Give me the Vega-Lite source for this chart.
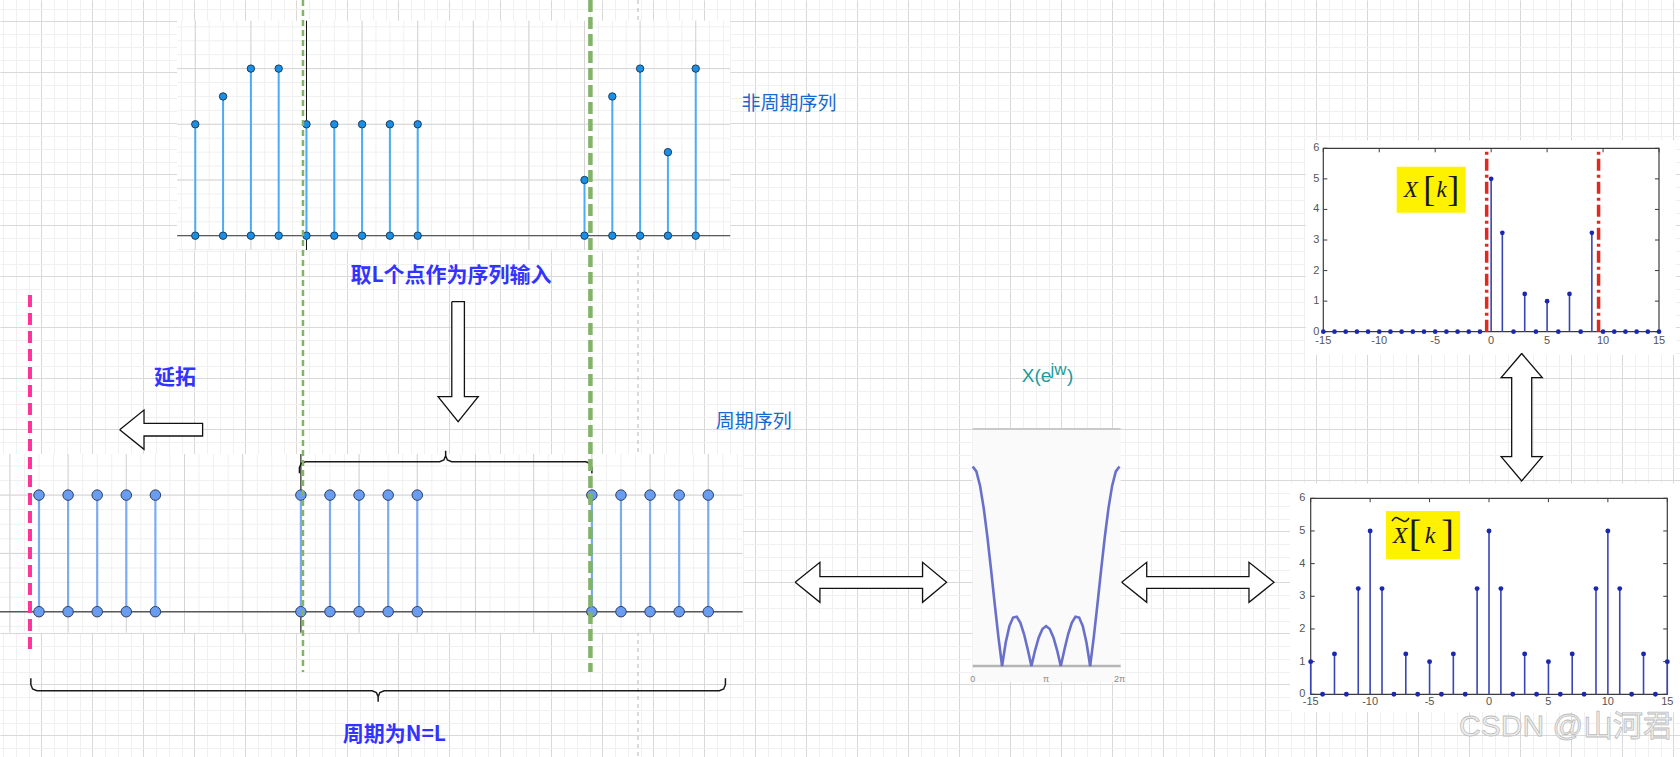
{
"$schema":"https://vega.github.io/schema/vega-lite/v6.json",
"width":1680,"height":757,"autosize":{"type":"none"},"padding":0,"background":"#ffffff",
"config":{"view":{"stroke":null}},
"datasets":{
"aStem":[{"n":-4,"v":2},{"n":-3,"v":2.5},{"n":-2,"v":3},{"n":-1,"v":3},{"n":0,"v":2},{"n":1,"v":2},{"n":2,"v":2},{"n":3,"v":2},{"n":4,"v":2},{"n":10,"v":1},{"n":11,"v":2.5},{"n":12,"v":3},{"n":13,"v":1.5},{"n":14,"v":3}],
"aMinX":[{"n":-4.5},{"n":-4},{"n":-3.5},{"n":-3},{"n":-2.5},{"n":-2},{"n":-1.5},{"n":-1},{"n":-0.5},{"n":0},{"n":0.5},{"n":1},{"n":1.5},{"n":2},{"n":2.5},{"n":3},{"n":3.5},{"n":4},{"n":4.5},{"n":5},{"n":5.5},{"n":6},{"n":6.5},{"n":7},{"n":7.5},{"n":8},{"n":8.5},{"n":9},{"n":9.5},{"n":10},{"n":10.5},{"n":11},{"n":11.5},{"n":12},{"n":12.5},{"n":13},{"n":13.5},{"n":14},{"n":14.5},{"n":15}],
"aMinY":[{"v":-0.25},{"v":0},{"v":0.25},{"v":0.5},{"v":0.75},{"v":1},{"v":1.25},{"v":1.5},{"v":1.75},{"v":2},{"v":2.25},{"v":2.5},{"v":2.75},{"v":3},{"v":3.25},{"v":3.5},{"v":3.75}],
"aMajX":[{"n":-4},{"n":-2},{"n":0},{"n":2},{"n":4},{"n":6},{"n":8},{"n":10},{"n":12},{"n":14}],
"aMajY":[{"v":0},{"v":1},{"v":2},{"v":3}],
"bStem":[{"n":-9,"v":2},{"n":-8,"v":2},{"n":-7,"v":2},{"n":-6,"v":2},{"n":-5,"v":2},{"n":0,"v":2},{"n":1,"v":2},{"n":2,"v":2},{"n":3,"v":2},{"n":4,"v":2},{"n":10,"v":2},{"n":11,"v":2},{"n":12,"v":2},{"n":13,"v":2},{"n":14,"v":2}],
"bMinX":[{"n":-10},{"n":-9.5},{"n":-9},{"n":-8.5},{"n":-8},{"n":-7.5},{"n":-7},{"n":-6.5},{"n":-6},{"n":-5.5},{"n":-5},{"n":-4.5},{"n":-4},{"n":-3.5},{"n":-3},{"n":-2.5},{"n":-2},{"n":-1.5},{"n":-1},{"n":-0.5},{"n":0},{"n":0.5},{"n":1},{"n":1.5},{"n":2},{"n":2.5},{"n":3},{"n":3.5},{"n":4},{"n":4.5},{"n":5},{"n":5.5},{"n":6},{"n":6.5},{"n":7},{"n":7.5},{"n":8},{"n":8.5},{"n":9},{"n":9.5},{"n":10},{"n":10.5},{"n":11},{"n":11.5},{"n":12},{"n":12.5},{"n":13},{"n":13.5},{"n":14},{"n":14.5},{"n":15}],
"bMinY":[{"v":-0.25},{"v":0},{"v":0.25},{"v":0.5},{"v":0.75},{"v":1},{"v":1.25},{"v":1.5},{"v":1.75},{"v":2},{"v":2.25},{"v":2.5}],
"bMajX":[{"n":-10},{"n":-8},{"n":-6},{"n":-4},{"n":-2},{"n":0},{"n":2},{"n":4},{"n":6},{"n":8},{"n":10},{"n":12},{"n":14}],
"bMajY":[{"v":0},{"v":1},{"v":2}],
"braces":[
{"b":"t","i":0,"n":-0.05,"v":2.374},{"b":"t","i":1,"n":-0.05,"v":2.47},{"b":"t","i":2,"n":0.01,"v":2.543},{"b":"t","i":3,"n":0.156,"v":2.573},{"b":"t","i":4,"n":4.769,"v":2.573},{"b":"t","i":5,"n":4.915,"v":2.603},{"b":"t","i":6,"n":4.975,"v":2.676},{"b":"t","i":7,"n":4.975,"v":2.762},{"b":"t","i":8,"n":4.975,"v":2.676},{"b":"t","i":9,"n":5.035,"v":2.603},{"b":"t","i":10,"n":5.181,"v":2.573},{"b":"t","i":11,"n":9.794,"v":2.573},{"b":"t","i":12,"n":9.94,"v":2.543},{"b":"t","i":13,"n":10,"v":2.47},{"b":"t","i":14,"n":10,"v":2.374},
{"b":"b","i":0,"n":-9.28,"v":-1.142},{"b":"b","i":1,"n":-9.28,"v":-1.252},{"b":"b","i":2,"n":-9.22,"v":-1.325},{"b":"b","i":3,"n":-9.074,"v":-1.355},{"b":"b","i":4,"n":2.449,"v":-1.355},{"b":"b","i":5,"n":2.595,"v":-1.385},{"b":"b","i":6,"n":2.655,"v":-1.458},{"b":"b","i":7,"n":2.655,"v":-1.544},{"b":"b","i":8,"n":2.655,"v":-1.458},{"b":"b","i":9,"n":2.715,"v":-1.385},{"b":"b","i":10,"n":2.861,"v":-1.355},{"b":"b","i":11,"n":14.384,"v":-1.355},{"b":"b","i":12,"n":14.53,"v":-1.325},{"b":"b","i":13,"n":14.59,"v":-1.252},{"b":"b","i":14,"n":14.59,"v":-1.142}],
"dtft":[{"w":0,"m":5},{"w":0.05,"m":4.877},{"w":0.1,"m":4.52},{"w":0.15,"m":3.958},{"w":0.2,"m":3.236},{"w":0.25,"m":2.414},{"w":0.3,"m":1.558},{"w":0.35,"m":0.732},{"w":0.4,"m":0},{"w":0.45,"m":0.589},{"w":0.5,"m":1},{"w":0.55,"m":1.215},{"w":0.6,"m":1.236},{"w":0.65,"m":1.084},{"w":0.7,"m":0.794},{"w":0.75,"m":0.414},{"w":0.8,"m":0},{"w":0.85,"m":0.394},{"w":0.9,"m":0.716},{"w":0.95,"m":0.927},{"w":1,"m":1},{"w":1.05,"m":0.927},{"w":1.1,"m":0.716},{"w":1.15,"m":0.394},{"w":1.2,"m":0},{"w":1.25,"m":0.414},{"w":1.3,"m":0.794},{"w":1.35,"m":1.084},{"w":1.4,"m":1.236},{"w":1.45,"m":1.215},{"w":1.5,"m":1},{"w":1.55,"m":0.589},{"w":1.6,"m":0},{"w":1.65,"m":0.732},{"w":1.7,"m":1.558},{"w":1.75,"m":2.414},{"w":1.8,"m":3.236},{"w":1.85,"m":3.958},{"w":1.9,"m":4.52},{"w":1.95,"m":4.877},{"w":2,"m":5}],
"cLab":[{"w":0,"t":"0"},{"w":1,"t":"π"},{"w":2,"t":"2π"}],
"dStem":[{"k":-15,"v":0},{"k":-14,"v":0},{"k":-13,"v":0},{"k":-12,"v":0},{"k":-11,"v":0},{"k":-10,"v":0},{"k":-9,"v":0},{"k":-8,"v":0},{"k":-7,"v":0},{"k":-6,"v":0},{"k":-5,"v":0},{"k":-4,"v":0},{"k":-3,"v":0},{"k":-2,"v":0},{"k":-1,"v":0},{"k":0,"v":5},{"k":1,"v":3.236},{"k":2,"v":0},{"k":3,"v":1.236},{"k":4,"v":0},{"k":5,"v":1},{"k":6,"v":0},{"k":7,"v":1.236},{"k":8,"v":0},{"k":9,"v":3.236},{"k":10,"v":0},{"k":11,"v":0},{"k":12,"v":0},{"k":13,"v":0},{"k":14,"v":0},{"k":15,"v":0}],
"eStem":[{"k":-15,"v":1},{"k":-14,"v":0},{"k":-13,"v":1.236},{"k":-12,"v":0},{"k":-11,"v":3.236},{"k":-10,"v":5},{"k":-9,"v":3.236},{"k":-8,"v":0},{"k":-7,"v":1.236},{"k":-6,"v":0},{"k":-5,"v":1},{"k":-4,"v":0},{"k":-3,"v":1.236},{"k":-2,"v":0},{"k":-1,"v":3.236},{"k":0,"v":5},{"k":1,"v":3.236},{"k":2,"v":0},{"k":3,"v":1.236},{"k":4,"v":0},{"k":5,"v":1},{"k":6,"v":0},{"k":7,"v":1.236},{"k":8,"v":0},{"k":9,"v":3.236},{"k":10,"v":5},{"k":11,"v":3.236},{"k":12,"v":0},{"k":13,"v":1.236},{"k":14,"v":0},{"k":15,"v":1}],
"kLab":[{"k":-15,"t":"-15"},{"k":-10,"t":"-10"},{"k":-5,"t":"-5"},{"k":0,"t":"0"},{"k":5,"t":"5"},{"k":10,"t":"10"},{"k":15,"t":"15"}],
"vLab":[{"v":0,"t":"0"},{"v":1,"t":"1"},{"v":2,"t":"2"},{"v":3,"t":"3"},{"v":4,"t":"4"},{"v":5,"t":"5"},{"v":6,"t":"6"}],
"dRed":[{"k":-0.4},{"k":9.6}],
"dItal":[{"k":-7.185,"v":4.418,"t":"X"},{"k":-4.42,"v":4.418,"t":"k"}],
"dBrk":[{"k":-5.536,"v":4.28,"t":"["},{"k":-3.382,"v":4.28,"t":"]"}],
"eItal":[{"k":-7.487,"v":4.622,"t":"X"},{"k":-4.963,"v":4.622,"t":"k"}],
"eBrk":[{"k":-6.225,"v":4.539,"t":"["},{"k":-3.491,"v":4.539,"t":"]"}],
"eTil":[{"k":-8.16,"v":5.305},{"k":-7.824,"v":5.412},{"k":-7.445,"v":5.35},{"k":-7.067,"v":5.289},{"k":-6.73,"v":5.396}],
"arrows":[
{"a":"down","i":0,"gx":8.049,"gy":5.498},{"a":"down","i":1,"gx":8.296,"gy":5.498},{"a":"down","i":2,"gx":8.296,"gy":7.361},{"a":"down","i":3,"gx":8.567,"gy":7.361},{"a":"down","i":4,"gx":8.173,"gy":7.851},{"a":"down","i":5,"gx":7.779,"gy":7.361},{"a":"down","i":6,"gx":8.049,"gy":7.361},{"a":"down","i":7,"gx":8.049,"gy":5.498},
{"a":"left","i":0,"gx":1.537,"gy":8.007},{"a":"left","i":1,"gx":2.014,"gy":7.622},{"a":"left","i":2,"gx":2.014,"gy":7.882},{"a":"left","i":3,"gx":3.163,"gy":7.882},{"a":"left","i":4,"gx":3.163,"gy":8.131},{"a":"left","i":5,"gx":2.014,"gy":8.131},{"a":"left","i":6,"gx":2.014,"gy":8.392},{"a":"left","i":7,"gx":1.537,"gy":8.007},
{"a":"h1","i":0,"gx":14.782,"gy":11.0},{"a":"h1","i":1,"gx":15.267,"gy":10.608},{"a":"h1","i":2,"gx":15.267,"gy":10.89},{"a":"h1","i":3,"gx":17.28,"gy":10.89},{"a":"h1","i":4,"gx":17.28,"gy":10.608},{"a":"h1","i":5,"gx":17.751,"gy":11.0},{"a":"h1","i":6,"gx":17.28,"gy":11.392},{"a":"h1","i":7,"gx":17.28,"gy":11.118},{"a":"h1","i":8,"gx":15.267,"gy":11.118},{"a":"h1","i":9,"gx":15.267,"gy":11.392},{"a":"h1","i":10,"gx":14.782,"gy":11.0},
{"a":"h2","i":0,"gx":21.184,"gy":11.0},{"a":"h2","i":1,"gx":21.675,"gy":10.608},{"a":"h2","i":2,"gx":21.675,"gy":10.89},{"a":"h2","i":3,"gx":23.68,"gy":10.89},{"a":"h2","i":4,"gx":23.68,"gy":10.608},{"a":"h2","i":5,"gx":24.171,"gy":11.0},{"a":"h2","i":6,"gx":23.68,"gy":11.392},{"a":"h2","i":7,"gx":23.68,"gy":11.118},{"a":"h2","i":8,"gx":21.675,"gy":11.118},{"a":"h2","i":9,"gx":21.675,"gy":11.392},{"a":"h2","i":10,"gx":21.184,"gy":11.0},
{"a":"v1","i":0,"gx":29.027,"gy":6.514},{"a":"v1","i":1,"gx":29.431,"gy":6.988},{"a":"v1","i":2,"gx":29.224,"gy":6.988},{"a":"v1","i":3,"gx":29.224,"gy":8.537},{"a":"v1","i":4,"gx":29.431,"gy":8.537},{"a":"v1","i":5,"gx":29.027,"gy":9.012},{"a":"v1","i":6,"gx":28.625,"gy":8.537},{"a":"v1","i":7,"gx":28.831,"gy":8.537},{"a":"v1","i":8,"gx":28.831,"gy":6.988},{"a":"v1","i":9,"gx":28.625,"gy":6.988},{"a":"v1","i":10,"gx":29.027,"gy":6.514}]
},
"resolve":{"scale":{"x":"independent","y":"independent"}},
"layer":[
{"data":{"values":[{"a":0,"b":0}]},"mark":{"type":"point","opacity":0},
 "encoding":{"x":{"field":"a","type":"quantitative","scale":{"domain":[-3.2392,128.5255],"range":[0,1680],"nice":false,"zero":false},"axis":{"grid":true,"gridColor":"#f0f0f0","gridWidth":1,"domain":false,"ticks":false,"labels":false,"title":null,"tickCount":132}},
 "y":{"field":"b","type":"quantitative","scale":{"domain":[-1.6706,57.702],"range":[0,757],"nice":false,"zero":false},"axis":{"grid":true,"gridColor":"#f0f0f0","gridWidth":1,"domain":false,"ticks":false,"labels":false,"title":null,"tickCount":60}}}},
{"data":{"values":[{"a":0,"b":0}]},"mark":{"type":"point","opacity":0},
 "encoding":{"x":{"field":"a","type":"quantitative","scale":{"domain":[-0.8098,32.1314],"range":[0,1680],"nice":false,"zero":false},"axis":{"grid":true,"gridColor":"#d9d9d9","gridWidth":1,"domain":false,"ticks":false,"labels":false,"title":null,"tickCount":33}},
 "y":{"field":"b","type":"quantitative","scale":{"domain":[-0.4176,14.4255],"range":[0,757],"nice":false,"zero":false},"axis":{"grid":true,"gridColor":"#d9d9d9","gridWidth":1,"domain":false,"ticks":false,"labels":false,"title":null,"tickCount":15}}}},
{"data":{"values":[{"gx":11.7,"gy":-0.418,"gy2":14.426}]},"mark":{"type":"rule","stroke":"#c4c4c4","strokeWidth":1.2,"strokeDash":[4,4]},
 "encoding":{"x":{"field":"gx","type":"quantitative","scale":{"domain":[-0.8098,32.1314],"range":[0,1680],"nice":false,"zero":false},"axis":null},"y":{"field":"gy","type":"quantitative","scale":{"domain":[-0.4176,14.4255],"range":[0,757],"nice":false,"zero":false},"axis":null},"y2":{"field":"gy2"}}},
{"layer":[
 {"data":{"values":[{}]},"mark":{"type":"rect","fill":"#ffffff"},"encoding":{"x":{"datum":-4.65,"type":"quantitative","scale":{"domain":[-4.65,15.24],"range":[177.2,730.2],"nice":false,"zero":false},"axis":null},"x2":{"datum":15.24},"y":{"datum":-0.257,"type":"quantitative","scale":{"domain":[-0.257,3.86],"range":[250,20.7],"nice":false,"zero":false},"axis":null},"y2":{"datum":3.86}}},
 {"data":{"name":"aMinX"},"mark":{"type":"rule","stroke":"#f0f0f0","strokeWidth":1},"encoding":{"x":{"field":"n","type":"quantitative","scale":{"domain":[-4.65,15.24],"range":[177.2,730.2],"nice":false,"zero":false},"axis":null},"y":{"datum":-0.257,"type":"quantitative","scale":{"domain":[-0.257,3.86],"range":[250,20.7],"nice":false,"zero":false},"axis":null},"y2":{"datum":3.86}}},
 {"data":{"name":"aMinY"},"mark":{"type":"rule","stroke":"#f0f0f0","strokeWidth":1},"encoding":{"y":{"field":"v","type":"quantitative","scale":{"domain":[-0.257,3.86],"range":[250,20.7],"nice":false,"zero":false},"axis":null},"x":{"datum":-4.65,"type":"quantitative","scale":{"domain":[-4.65,15.24],"range":[177.2,730.2],"nice":false,"zero":false},"axis":null},"x2":{"datum":15.24}}},
 {"data":{"name":"aMajX"},"mark":{"type":"rule","stroke":"#d4d4d4","strokeWidth":1},"encoding":{"x":{"field":"n","type":"quantitative","scale":{"domain":[-4.65,15.24],"range":[177.2,730.2],"nice":false,"zero":false},"axis":null},"y":{"datum":-0.257,"type":"quantitative","scale":{"domain":[-0.257,3.86],"range":[250,20.7],"nice":false,"zero":false},"axis":null},"y2":{"datum":3.86}}},
 {"data":{"name":"aMajY"},"mark":{"type":"rule","stroke":"#d4d4d4","strokeWidth":1},"encoding":{"y":{"field":"v","type":"quantitative","scale":{"domain":[-0.257,3.86],"range":[250,20.7],"nice":false,"zero":false},"axis":null},"x":{"datum":-4.65,"type":"quantitative","scale":{"domain":[-4.65,15.24],"range":[177.2,730.2],"nice":false,"zero":false},"axis":null},"x2":{"datum":15.24}}},
 {"data":{"values":[{}]},"mark":{"type":"rule","stroke":"#5a5a5a","strokeWidth":1.2},"encoding":{"y":{"datum":0,"type":"quantitative","scale":{"domain":[-0.257,3.86],"range":[250,20.7],"nice":false,"zero":false},"axis":null},"x":{"datum":-4.65,"type":"quantitative","scale":{"domain":[-4.65,15.24],"range":[177.2,730.2],"nice":false,"zero":false},"axis":null},"x2":{"datum":15.24}}},
 {"data":{"values":[{}]},"mark":{"type":"rule","stroke":"#111111","strokeWidth":1},"encoding":{"x":{"datum":0,"type":"quantitative","scale":{"domain":[-4.65,15.24],"range":[177.2,730.2],"nice":false,"zero":false},"axis":null},"y":{"datum":-0.257,"type":"quantitative","scale":{"domain":[-0.257,3.86],"range":[250,20.7],"nice":false,"zero":false},"axis":null},"y2":{"datum":3.86}}},
 {"data":{"name":"aStem"},"mark":{"type":"rule","stroke":"#4aacf2","strokeWidth":2},"encoding":{"x":{"field":"n","type":"quantitative","scale":{"domain":[-4.65,15.24],"range":[177.2,730.2],"nice":false,"zero":false},"axis":null},"y":{"field":"v","type":"quantitative","scale":{"domain":[-0.257,3.86],"range":[250,20.7],"nice":false,"zero":false},"axis":null},"y2":{"datum":0}}},
 {"data":{"name":"aStem"},"mark":{"type":"circle","fill":"#1a8fe6","stroke":"#1e3d5c","strokeWidth":1,"size":55,"opacity":1},"encoding":{"x":{"field":"n","type":"quantitative","scale":{"domain":[-4.65,15.24],"range":[177.2,730.2],"nice":false,"zero":false},"axis":null},"y":{"datum":0,"type":"quantitative","scale":{"domain":[-0.257,3.86],"range":[250,20.7],"nice":false,"zero":false},"axis":null}}},
 {"data":{"name":"aStem"},"mark":{"type":"circle","fill":"#1a8fe6","stroke":"#1e3d5c","strokeWidth":1,"size":55,"opacity":1},"encoding":{"x":{"field":"n","type":"quantitative","scale":{"domain":[-4.65,15.24],"range":[177.2,730.2],"nice":false,"zero":false},"axis":null},"y":{"field":"v","type":"quantitative","scale":{"domain":[-0.257,3.86],"range":[250,20.7],"nice":false,"zero":false},"axis":null}}}
]},
{"layer":[
 {"data":{"values":[{}]},"mark":{"type":"rect","fill":"#ffffff"},"encoding":{"x":{"datum":-10.34,"type":"quantitative","scale":{"domain":[-10.34,15.18],"range":[0,742.6],"nice":false,"zero":false},"axis":null},"x2":{"datum":15.18},"y":{"datum":-0.36,"type":"quantitative","scale":{"domain":[-0.36,2.705],"range":[632.7,454],"nice":false,"zero":false},"axis":null},"y2":{"datum":2.705}}},
 {"data":{"name":"bMinX"},"mark":{"type":"rule","stroke":"#f0f0f0","strokeWidth":1},"encoding":{"x":{"field":"n","type":"quantitative","scale":{"domain":[-10.34,15.18],"range":[0,742.6],"nice":false,"zero":false},"axis":null},"y":{"datum":-0.36,"type":"quantitative","scale":{"domain":[-0.36,2.705],"range":[632.7,454],"nice":false,"zero":false},"axis":null},"y2":{"datum":2.705}}},
 {"data":{"name":"bMinY"},"mark":{"type":"rule","stroke":"#f0f0f0","strokeWidth":1},"encoding":{"y":{"field":"v","type":"quantitative","scale":{"domain":[-0.36,2.705],"range":[632.7,454],"nice":false,"zero":false},"axis":null},"x":{"datum":-10.34,"type":"quantitative","scale":{"domain":[-10.34,15.18],"range":[0,742.6],"nice":false,"zero":false},"axis":null},"x2":{"datum":15.18}}},
 {"data":{"name":"bMajX"},"mark":{"type":"rule","stroke":"#d4d4d4","strokeWidth":1},"encoding":{"x":{"field":"n","type":"quantitative","scale":{"domain":[-10.34,15.18],"range":[0,742.6],"nice":false,"zero":false},"axis":null},"y":{"datum":-0.36,"type":"quantitative","scale":{"domain":[-0.36,2.705],"range":[632.7,454],"nice":false,"zero":false},"axis":null},"y2":{"datum":2.705}}},
 {"data":{"name":"bMajY"},"mark":{"type":"rule","stroke":"#d4d4d4","strokeWidth":1},"encoding":{"y":{"field":"v","type":"quantitative","scale":{"domain":[-0.36,2.705],"range":[632.7,454],"nice":false,"zero":false},"axis":null},"x":{"datum":-10.34,"type":"quantitative","scale":{"domain":[-10.34,15.18],"range":[0,742.6],"nice":false,"zero":false},"axis":null},"x2":{"datum":15.18}}},
 {"data":{"values":[{}]},"mark":{"type":"rule","stroke":"#5a5a5a","strokeWidth":1.4},"encoding":{"y":{"datum":0,"type":"quantitative","scale":{"domain":[-0.36,2.705],"range":[632.7,454],"nice":false,"zero":false},"axis":null},"x":{"datum":-10.34,"type":"quantitative","scale":{"domain":[-10.34,15.18],"range":[0,742.6],"nice":false,"zero":false},"axis":null},"x2":{"datum":15.18}}},
 {"data":{"values":[{}]},"mark":{"type":"rule","stroke":"#111111","strokeWidth":1},"encoding":{"x":{"datum":0,"type":"quantitative","scale":{"domain":[-10.34,15.18],"range":[0,742.6],"nice":false,"zero":false},"axis":null},"y":{"datum":-0.36,"type":"quantitative","scale":{"domain":[-0.36,2.705],"range":[632.7,454],"nice":false,"zero":false},"axis":null},"y2":{"datum":2.705}}},
 {"data":{"name":"bStem"},"mark":{"type":"rule","stroke":"#7eaaf2","strokeWidth":2.2},"encoding":{"x":{"field":"n","type":"quantitative","scale":{"domain":[-10.34,15.18],"range":[0,742.6],"nice":false,"zero":false},"axis":null},"y":{"field":"v","type":"quantitative","scale":{"domain":[-0.36,2.705],"range":[632.7,454],"nice":false,"zero":false},"axis":null},"y2":{"datum":0}}},
 {"data":{"name":"bStem"},"mark":{"type":"circle","fill":"#6a9cf0","stroke":"#2b3f66","strokeWidth":1,"size":110,"opacity":1},"encoding":{"x":{"field":"n","type":"quantitative","scale":{"domain":[-10.34,15.18],"range":[0,742.6],"nice":false,"zero":false},"axis":null},"y":{"datum":0,"type":"quantitative","scale":{"domain":[-0.36,2.705],"range":[632.7,454],"nice":false,"zero":false},"axis":null}}},
 {"data":{"name":"bStem"},"mark":{"type":"circle","fill":"#6a9cf0","stroke":"#2b3f66","strokeWidth":1,"size":110,"opacity":1},"encoding":{"x":{"field":"n","type":"quantitative","scale":{"domain":[-10.34,15.18],"range":[0,742.6],"nice":false,"zero":false},"axis":null},"y":{"field":"v","type":"quantitative","scale":{"domain":[-0.36,2.705],"range":[632.7,454],"nice":false,"zero":false},"axis":null}}},
 {"data":{"name":"braces"},"mark":{"type":"line","stroke":"#1a1a1a","strokeWidth":1.5,"interpolate":"linear"},"encoding":{"x":{"field":"n","type":"quantitative","scale":{"domain":[-10.34,15.18],"range":[0,742.6],"nice":false,"zero":false},"axis":null},"y":{"field":"v","type":"quantitative","scale":{"domain":[-0.36,2.705],"range":[632.7,454],"nice":false,"zero":false},"axis":null},"detail":{"field":"b"},"order":{"field":"i","type":"quantitative"}}}
]},
{"layer":[
 {"data":{"values":[{}]},"mark":{"type":"rect","fill":"#fafafa"},"encoding":{"x":{"datum":0,"type":"quantitative","scale":{"domain":[0,2],"range":[972.7,1119.5],"nice":false,"zero":false},"axis":null},"x2":{"datum":2.016},"y":{"datum":-0.401,"type":"quantitative","scale":{"domain":[0,5],"range":[666,466.5],"nice":false,"zero":false},"axis":null},"y2":{"datum":5.94}}},
 {"data":{"values":[{}]},"mark":{"type":"rule","stroke":"#c9c9c9","strokeWidth":2},"encoding":{"y":{"datum":5.94,"type":"quantitative","scale":{"domain":[0,5],"range":[666,466.5],"nice":false,"zero":false},"axis":null},"x":{"datum":0,"type":"quantitative","scale":{"domain":[0,2],"range":[972.7,1119.5],"nice":false,"zero":false},"axis":null},"x2":{"datum":2.016}}},
 {"data":{"values":[{}]},"mark":{"type":"rule","stroke":"#b5b5b5","strokeWidth":2.5},"encoding":{"y":{"datum":0,"type":"quantitative","scale":{"domain":[0,5],"range":[666,466.5],"nice":false,"zero":false},"axis":null},"x":{"datum":0,"type":"quantitative","scale":{"domain":[0,2],"range":[972.7,1119.5],"nice":false,"zero":false},"axis":null},"x2":{"datum":2.016}}},
 {"data":{"name":"dtft"},"mark":{"type":"line","stroke":"#5860c4","strokeWidth":2.6,"opacity":0.9},"encoding":{"x":{"field":"w","type":"quantitative","scale":{"domain":[0,2],"range":[972.7,1119.5],"nice":false,"zero":false},"axis":null},"y":{"field":"m","type":"quantitative","scale":{"domain":[0,5],"range":[666,466.5],"nice":false,"zero":false},"axis":null}}},
 {"data":{"name":"cLab"},"mark":{"type":"text","font":"Liberation Sans","fontSize":9,"fill":"#8a8a8a","align":"center","baseline":"middle"},"encoding":{"x":{"field":"w","type":"quantitative","scale":{"domain":[0,2],"range":[972.7,1119.5],"nice":false,"zero":false},"axis":null},"y":{"datum":-0.33,"type":"quantitative","scale":{"domain":[0,5],"range":[666,466.5],"nice":false,"zero":false},"axis":null},"text":{"field":"t"}}}
]},
{"layer":[
 {"data":{"values":[{}]},"mark":{"type":"rect","fill":"#ffffff"},"encoding":{"x":{"datum":-16.57,"type":"quantitative","scale":{"domain":[-15,15],"range":[1323.3,1659],"nice":false,"zero":false},"axis":null},"x2":{"datum":16.5},"y":{"datum":-0.75,"type":"quantitative","scale":{"domain":[0,6],"range":[331.7,148.3],"nice":false,"zero":false},"axis":null},"y2":{"datum":6.26}}},
 {"data":{"values":[{}]},"mark":{"type":"rect","fill":"#fff200"},"encoding":{"x":{"datum":-8.44,"type":"quantitative","scale":{"domain":[-15,15],"range":[1323.3,1659],"nice":false,"zero":false},"axis":null},"x2":{"datum":-2.274},"y":{"datum":3.894,"type":"quantitative","scale":{"domain":[0,6],"range":[331.7,148.3],"nice":false,"zero":false},"axis":null},"y2":{"datum":5.399}}},
 {"data":{"values":[{}]},"mark":{"type":"rect","fill":"#ffffff","fillOpacity":0,"stroke":"#3c3c3c","strokeWidth":1.2},"encoding":{"x":{"datum":-15,"type":"quantitative","scale":{"domain":[-15,15],"range":[1323.3,1659],"nice":false,"zero":false},"axis":null},"x2":{"datum":15},"y":{"datum":0,"type":"quantitative","scale":{"domain":[0,6],"range":[331.7,148.3],"nice":false,"zero":false},"axis":null},"y2":{"datum":6}}},
 {"data":{"name":"kLab"},"mark":{"type":"rule","stroke":"#3c3c3c","strokeWidth":1},"encoding":{"x":{"field":"k","type":"quantitative","scale":{"domain":[-15,15],"range":[1323.3,1659],"nice":false,"zero":false},"axis":null},"y":{"datum":5.87,"type":"quantitative","scale":{"domain":[0,6],"range":[331.7,148.3],"nice":false,"zero":false},"axis":null},"y2":{"datum":6}}},
 {"data":{"name":"vLab"},"mark":{"type":"rule","stroke":"#3c3c3c","strokeWidth":1},"encoding":{"y":{"field":"v","type":"quantitative","scale":{"domain":[0,6],"range":[331.7,148.3],"nice":false,"zero":false},"axis":null},"x":{"datum":-15,"type":"quantitative","scale":{"domain":[-15,15],"range":[1323.3,1659],"nice":false,"zero":false},"axis":null},"x2":{"datum":-14.64}}},
 {"data":{"name":"vLab"},"mark":{"type":"rule","stroke":"#3c3c3c","strokeWidth":1},"encoding":{"y":{"field":"v","type":"quantitative","scale":{"domain":[0,6],"range":[331.7,148.3],"nice":false,"zero":false},"axis":null},"x":{"datum":14.64,"type":"quantitative","scale":{"domain":[-15,15],"range":[1323.3,1659],"nice":false,"zero":false},"axis":null},"x2":{"datum":15}}},
 {"data":{"name":"dRed"},"mark":{"type":"rule","stroke":"#e3291f","strokeWidth":3.5,"strokeDash":[12,4,3,4]},"encoding":{"x":{"field":"k","type":"quantitative","scale":{"domain":[-15,15],"range":[1323.3,1659],"nice":false,"zero":false},"axis":null},"y":{"datum":0,"type":"quantitative","scale":{"domain":[0,6],"range":[331.7,148.3],"nice":false,"zero":false},"axis":null},"y2":{"datum":6}}},
 {"data":{"name":"dStem"},"mark":{"type":"rule","stroke":"#3a45b4","strokeWidth":1.6},"encoding":{"x":{"field":"k","type":"quantitative","scale":{"domain":[-15,15],"range":[1323.3,1659],"nice":false,"zero":false},"axis":null},"y":{"field":"v","type":"quantitative","scale":{"domain":[0,6],"range":[331.7,148.3],"nice":false,"zero":false},"axis":null},"y2":{"datum":0}}},
 {"data":{"name":"dStem"},"mark":{"type":"circle","fill":"#1a28b0","size":22,"opacity":1},"encoding":{"x":{"field":"k","type":"quantitative","scale":{"domain":[-15,15],"range":[1323.3,1659],"nice":false,"zero":false},"axis":null},"y":{"field":"v","type":"quantitative","scale":{"domain":[0,6],"range":[331.7,148.3],"nice":false,"zero":false},"axis":null}}},
 {"data":{"name":"kLab"},"mark":{"type":"text","font":"Liberation Sans","fontSize":11,"fill":"#555555","align":"center","baseline":"middle"},"encoding":{"x":{"field":"k","type":"quantitative","scale":{"domain":[-15,15],"range":[1323.3,1659],"nice":false,"zero":false},"axis":null},"y":{"datum":-0.3,"type":"quantitative","scale":{"domain":[0,6],"range":[331.7,148.3],"nice":false,"zero":false},"axis":null},"text":{"field":"t"}}},
 {"data":{"name":"vLab"},"mark":{"type":"text","font":"Liberation Sans","fontSize":11,"fill":"#555555","align":"right","baseline":"middle"},"encoding":{"y":{"field":"v","type":"quantitative","scale":{"domain":[0,6],"range":[331.7,148.3],"nice":false,"zero":false},"axis":null},"x":{"datum":-15.36,"type":"quantitative","scale":{"domain":[-15,15],"range":[1323.3,1659],"nice":false,"zero":false},"axis":null},"text":{"field":"t"}}},
 {"data":{"name":"dItal"},"mark":{"type":"text","font":"Liberation Serif","fontStyle":"italic","fontSize":23,"fill":"#1a1a1a","align":"center","baseline":"alphabetic"},"encoding":{"x":{"field":"k","type":"quantitative","scale":{"domain":[-15,15],"range":[1323.3,1659],"nice":false,"zero":false},"axis":null},"y":{"field":"v","type":"quantitative","scale":{"domain":[0,6],"range":[331.7,148.3],"nice":false,"zero":false},"axis":null},"text":{"field":"t"}}},
 {"data":{"name":"dBrk"},"mark":{"type":"text","font":"Liberation Serif","fontSize":36,"fill":"#1a1a1a","align":"center","baseline":"alphabetic"},"encoding":{"x":{"field":"k","type":"quantitative","scale":{"domain":[-15,15],"range":[1323.3,1659],"nice":false,"zero":false},"axis":null},"y":{"field":"v","type":"quantitative","scale":{"domain":[0,6],"range":[331.7,148.3],"nice":false,"zero":false},"axis":null},"text":{"field":"t"}}}
]},
{"layer":[
 {"data":{"values":[{}]},"mark":{"type":"rect","fill":"#ffffff"},"encoding":{"x":{"datum":-16.74,"type":"quantitative","scale":{"domain":[-15,15],"range":[1310.7,1667.3],"nice":false,"zero":false},"axis":null},"x2":{"datum":16.1},"y":{"datum":-0.55,"type":"quantitative","scale":{"domain":[0,6],"range":[694.3,498.3],"nice":false,"zero":false},"axis":null},"y2":{"datum":6.45}}},
 {"data":{"values":[{}]},"mark":{"type":"rect","fill":"#fff200"},"encoding":{"x":{"datum":-8.665,"type":"quantitative","scale":{"domain":[-15,15],"range":[1310.7,1667.3],"nice":false,"zero":false},"axis":null},"x2":{"datum":-2.44},"y":{"datum":4.132,"type":"quantitative","scale":{"domain":[0,6],"range":[694.3,498.3],"nice":false,"zero":false},"axis":null},"y2":{"datum":5.61}}},
 {"data":{"values":[{}]},"mark":{"type":"rect","fill":"#ffffff","fillOpacity":0,"stroke":"#3c3c3c","strokeWidth":1.2},"encoding":{"x":{"datum":-15,"type":"quantitative","scale":{"domain":[-15,15],"range":[1310.7,1667.3],"nice":false,"zero":false},"axis":null},"x2":{"datum":15},"y":{"datum":0,"type":"quantitative","scale":{"domain":[0,6],"range":[694.3,498.3],"nice":false,"zero":false},"axis":null},"y2":{"datum":6}}},
 {"data":{"name":"kLab"},"mark":{"type":"rule","stroke":"#3c3c3c","strokeWidth":1},"encoding":{"x":{"field":"k","type":"quantitative","scale":{"domain":[-15,15],"range":[1310.7,1667.3],"nice":false,"zero":false},"axis":null},"y":{"datum":5.88,"type":"quantitative","scale":{"domain":[0,6],"range":[694.3,498.3],"nice":false,"zero":false},"axis":null},"y2":{"datum":6}}},
 {"data":{"name":"vLab"},"mark":{"type":"rule","stroke":"#3c3c3c","strokeWidth":1},"encoding":{"y":{"field":"v","type":"quantitative","scale":{"domain":[0,6],"range":[694.3,498.3],"nice":false,"zero":false},"axis":null},"x":{"datum":-15,"type":"quantitative","scale":{"domain":[-15,15],"range":[1310.7,1667.3],"nice":false,"zero":false},"axis":null},"x2":{"datum":-14.66}}},
 {"data":{"name":"vLab"},"mark":{"type":"rule","stroke":"#3c3c3c","strokeWidth":1},"encoding":{"y":{"field":"v","type":"quantitative","scale":{"domain":[0,6],"range":[694.3,498.3],"nice":false,"zero":false},"axis":null},"x":{"datum":14.66,"type":"quantitative","scale":{"domain":[-15,15],"range":[1310.7,1667.3],"nice":false,"zero":false},"axis":null},"x2":{"datum":15}}},
 {"data":{"name":"eStem"},"mark":{"type":"rule","stroke":"#3a45b4","strokeWidth":1.6},"encoding":{"x":{"field":"k","type":"quantitative","scale":{"domain":[-15,15],"range":[1310.7,1667.3],"nice":false,"zero":false},"axis":null},"y":{"field":"v","type":"quantitative","scale":{"domain":[0,6],"range":[694.3,498.3],"nice":false,"zero":false},"axis":null},"y2":{"datum":0}}},
 {"data":{"name":"eStem"},"mark":{"type":"circle","fill":"#1a28b0","size":24,"opacity":1},"encoding":{"x":{"field":"k","type":"quantitative","scale":{"domain":[-15,15],"range":[1310.7,1667.3],"nice":false,"zero":false},"axis":null},"y":{"field":"v","type":"quantitative","scale":{"domain":[0,6],"range":[694.3,498.3],"nice":false,"zero":false},"axis":null}}},
 {"data":{"name":"kLab"},"mark":{"type":"text","font":"Liberation Sans","fontSize":11,"fill":"#555555","align":"center","baseline":"middle"},"encoding":{"x":{"field":"k","type":"quantitative","scale":{"domain":[-15,15],"range":[1310.7,1667.3],"nice":false,"zero":false},"axis":null},"y":{"datum":-0.25,"type":"quantitative","scale":{"domain":[0,6],"range":[694.3,498.3],"nice":false,"zero":false},"axis":null},"text":{"field":"t"}}},
 {"data":{"name":"vLab"},"mark":{"type":"text","font":"Liberation Sans","fontSize":11,"fill":"#555555","align":"right","baseline":"middle"},"encoding":{"y":{"field":"v","type":"quantitative","scale":{"domain":[0,6],"range":[694.3,498.3],"nice":false,"zero":false},"axis":null},"x":{"datum":-15.45,"type":"quantitative","scale":{"domain":[-15,15],"range":[1310.7,1667.3],"nice":false,"zero":false},"axis":null},"text":{"field":"t"}}},
 {"data":{"name":"eItal"},"mark":{"type":"text","font":"Liberation Serif","fontStyle":"italic","fontSize":24,"fill":"#1a1a1a","align":"center","baseline":"alphabetic"},"encoding":{"x":{"field":"k","type":"quantitative","scale":{"domain":[-15,15],"range":[1310.7,1667.3],"nice":false,"zero":false},"axis":null},"y":{"field":"v","type":"quantitative","scale":{"domain":[0,6],"range":[694.3,498.3],"nice":false,"zero":false},"axis":null},"text":{"field":"t"}}},
 {"data":{"name":"eBrk"},"mark":{"type":"text","font":"Liberation Serif","fontSize":38,"fill":"#1a1a1a","align":"center","baseline":"alphabetic"},"encoding":{"x":{"field":"k","type":"quantitative","scale":{"domain":[-15,15],"range":[1310.7,1667.3],"nice":false,"zero":false},"axis":null},"y":{"field":"v","type":"quantitative","scale":{"domain":[0,6],"range":[694.3,498.3],"nice":false,"zero":false},"axis":null},"text":{"field":"t"}}},
 {"data":{"name":"eTil"},"mark":{"type":"line","stroke":"#1a1a1a","strokeWidth":1.6,"interpolate":"monotone"},"encoding":{"x":{"field":"k","type":"quantitative","scale":{"domain":[-15,15],"range":[1310.7,1667.3],"nice":false,"zero":false},"axis":null},"y":{"field":"v","type":"quantitative","scale":{"domain":[0,6],"range":[694.3,498.3],"nice":false,"zero":false},"axis":null}}}
]},
{"layer":[
 {"data":{"values":[{"gx":5.131,"gy":-0.418,"gy2":12.759}]},"mark":{"type":"rule","stroke":"#82b366","strokeWidth":2.5,"strokeDash":[6,4]},"encoding":{"x":{"field":"gx","type":"quantitative","scale":{"domain":[-0.8098,32.1314],"range":[0,1680],"nice":false,"zero":false},"axis":null},"y":{"field":"gy","type":"quantitative","scale":{"domain":[-0.4176,14.4255],"range":[0,757],"nice":false,"zero":false},"axis":null},"y2":{"field":"gy2"}}},
 {"data":{"values":[{"gx":10.767,"gy":-0.418,"gy2":12.759}]},"mark":{"type":"rule","stroke":"#82b366","strokeWidth":4.5,"strokeDash":[12,5]},"encoding":{"x":{"field":"gx","type":"quantitative","scale":{"domain":[-0.8098,32.1314],"range":[0,1680],"nice":false,"zero":false},"axis":null},"y":{"field":"gy","type":"quantitative","scale":{"domain":[-0.4176,14.4255],"range":[0,757],"nice":false,"zero":false},"axis":null},"y2":{"field":"gy2"}}},
 {"data":{"values":[{"gx":-0.222,"gy":5.367,"gy2":12.327}]},"mark":{"type":"rule","stroke":"#ff3399","strokeWidth":4,"strokeDash":[12,6]},"encoding":{"x":{"field":"gx","type":"quantitative","scale":{"domain":[-0.8098,32.1314],"range":[0,1680],"nice":false,"zero":false},"axis":null},"y":{"field":"gy","type":"quantitative","scale":{"domain":[-0.4176,14.4255],"range":[0,757],"nice":false,"zero":false},"axis":null},"y2":{"field":"gy2"}}},
 {"data":{"name":"arrows"},"mark":{"type":"line","fill":"#ffffff","stroke":"#111111","strokeWidth":1.3,"strokeJoin":"miter"},"encoding":{"x":{"field":"gx","type":"quantitative","scale":{"domain":[-0.8098,32.1314],"range":[0,1680],"nice":false,"zero":false},"axis":null},"y":{"field":"gy","type":"quantitative","scale":{"domain":[-0.4176,14.4255],"range":[0,757],"nice":false,"zero":false},"axis":null},"detail":{"field":"a"},"order":{"field":"i","type":"quantitative"}}},
 {"data":{"values":[{"gx":13.727,"gy":1.622,"t":"非周期序列"},{"gx":13.224,"gy":7.857,"t":"周期序列"}]},"mark":{"type":"text","font":"Noto Sans CJK SC","fontSize":19,"fill":"#1769cf","align":"left","baseline":"middle"},"encoding":{"x":{"field":"gx","type":"quantitative","scale":{"domain":[-0.8098,32.1314],"range":[0,1680],"nice":false,"zero":false},"axis":null},"y":{"field":"gy","type":"quantitative","scale":{"domain":[-0.4176,14.4255],"range":[0,757],"nice":false,"zero":false},"axis":null},"text":{"field":"t"}}},
 {"data":{"values":[{"gx":8.033,"gy":5.0,"t":"取L个点作为序列输入"},{"gx":2.622,"gy":7.0,"t":"延拓"},{"gx":6.922,"gy":13.994,"t":"周期为N=L"}]},"mark":{"type":"text","font":"Noto Sans CJK SC","fontSize":21,"fontWeight":"bold","fill":"#3333ff","align":"center","baseline":"middle"},"encoding":{"x":{"field":"gx","type":"quantitative","scale":{"domain":[-0.8098,32.1314],"range":[0,1680],"nice":false,"zero":false},"axis":null},"y":{"field":"gy","type":"quantitative","scale":{"domain":[-0.4176,14.4255],"range":[0,757],"nice":false,"zero":false},"axis":null},"text":{"field":"t"}}},
 {"data":{"values":[{"gx":19.224,"gy":7.063,"t":"X(e"},{"gx":20.11,"gy":7.063,"t":")"}]},"mark":{"type":"text","font":"Liberation Sans","fontSize":19,"fill":"#1a9c9c","align":"left","baseline":"alphabetic"},"encoding":{"x":{"field":"gx","type":"quantitative","scale":{"domain":[-0.8098,32.1314],"range":[0,1680],"nice":false,"zero":false},"axis":null},"y":{"field":"gy","type":"quantitative","scale":{"domain":[-0.4176,14.4255],"range":[0,757],"nice":false,"zero":false},"axis":null},"text":{"field":"t"}}},
 {"data":{"values":[{"gx":19.79,"gy":6.935,"t":"jw"}]},"mark":{"type":"text","font":"Liberation Sans","fontSize":17,"fill":"#1a9c9c","align":"left","baseline":"alphabetic"},"encoding":{"x":{"field":"gx","type":"quantitative","scale":{"domain":[-0.8098,32.1314],"range":[0,1680],"nice":false,"zero":false},"axis":null},"y":{"field":"gy","type":"quantitative","scale":{"domain":[-0.4176,14.4255],"range":[0,757],"nice":false,"zero":false},"axis":null},"text":{"field":"t"}}},
 {"data":{"values":[{"gx":29.896,"gy":13.837,"t":"CSDN @山河君"}]},"mark":{"type":"text","font":"Liberation Sans, Noto Sans CJK SC","fontSize":30,"fill":"#f0f0f0","stroke":"#bcbcbc","strokeWidth":0.8,"align":"center","baseline":"middle"},"encoding":{"x":{"field":"gx","type":"quantitative","scale":{"domain":[-0.8098,32.1314],"range":[0,1680],"nice":false,"zero":false},"axis":null},"y":{"field":"gy","type":"quantitative","scale":{"domain":[-0.4176,14.4255],"range":[0,757],"nice":false,"zero":false},"axis":null},"text":{"field":"t"}}}
]}
]
}
